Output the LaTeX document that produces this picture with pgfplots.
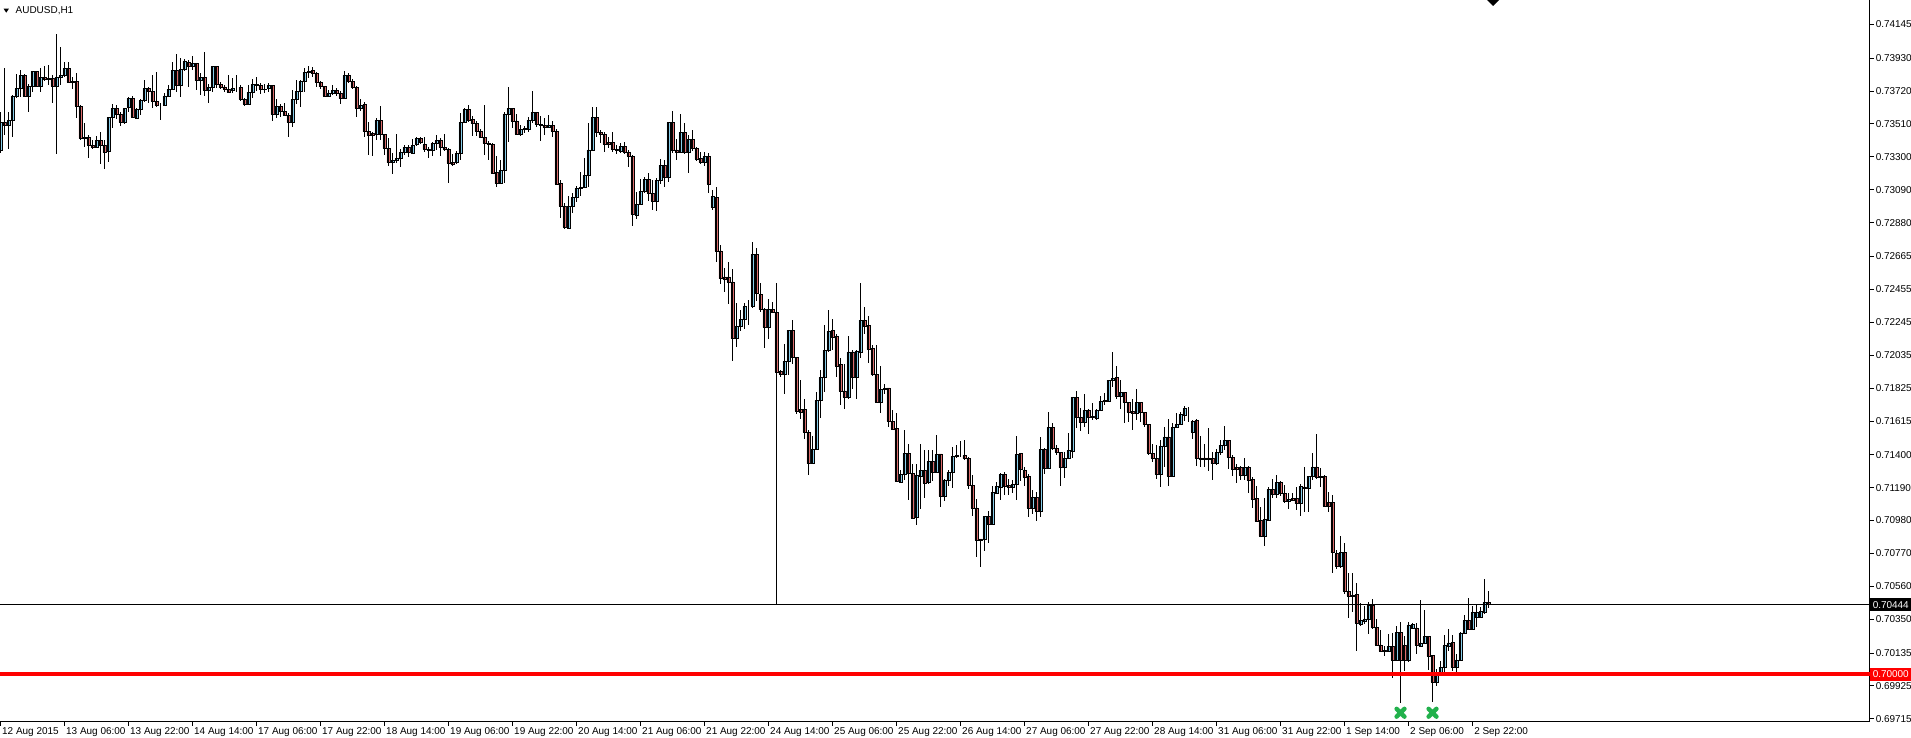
\documentclass[border=0pt]{standalone}
\usepackage{fontspec}
\setmainfont{Liberation Sans}
\usepackage{pgfplots}
\usepackage{pgfplotstable}
\pgfplotsset{compat=1.18}
\definecolor{bull}{RGB}{135,206,235}
\definecolor{bear}{RGB}{222,108,108}
\definecolor{xgreen}{RGB}{34,177,76}
\pgfplotstableread{
O H L C
0.73343 0.73584 0.73322 0.73520
0.73520 0.73865 0.73439 0.73503
0.73503 0.73588 0.73350 0.73531
0.73531 0.73695 0.73424 0.73690
0.73690 0.73827 0.73673 0.73737
0.73737 0.73852 0.73684 0.73818
0.73818 0.73827 0.73680 0.73690
0.73690 0.73763 0.73588 0.73750
0.73750 0.73850 0.73716 0.73846
0.73846 0.73850 0.73744 0.73750
0.73750 0.73865 0.73716 0.73808
0.73808 0.73878 0.73786 0.73795
0.73801 0.73884 0.73759 0.73795
0.73801 0.73823 0.73646 0.73750
0.73750 0.74082 0.73316 0.73808
0.73808 0.73999 0.73759 0.73818
0.73818 0.73903 0.73812 0.73865
0.73865 0.73903 0.73769 0.73776
0.73782 0.73812 0.73731 0.73776
0.73780 0.73833 0.73550 0.73624
0.73624 0.73631 0.73407 0.73418
0.73424 0.73514 0.73360 0.73418
0.73424 0.73439 0.73290 0.73375
0.73375 0.73407 0.73350 0.73360
0.73360 0.73433 0.73354 0.73407
0.73407 0.73456 0.73252 0.73375
0.73375 0.73407 0.73222 0.73328
0.73333 0.73552 0.73269 0.73552
0.73552 0.73639 0.73486 0.73609
0.73609 0.73631 0.73541 0.73571
0.73571 0.73584 0.73499 0.73520
0.73520 0.73609 0.73509 0.73609
0.73616 0.73684 0.73584 0.73673
0.73673 0.73688 0.73550 0.73556
0.73546 0.73614 0.73541 0.73603
0.73603 0.73669 0.73567 0.73659
0.73659 0.73791 0.73652 0.73737
0.73737 0.73748 0.73641 0.73720
0.73720 0.73823 0.73614 0.73656
0.73656 0.73844 0.73620 0.73627
0.73631 0.73641 0.73535 0.73631
0.73631 0.73705 0.73627 0.73690
0.73690 0.73759 0.73684 0.73731
0.73731 0.73903 0.73727 0.73854
0.73854 0.73955 0.73716 0.73759
0.73759 0.73929 0.73684 0.73859
0.73859 0.73923 0.73848 0.73912
0.73903 0.73918 0.73748 0.73876
0.73876 0.73944 0.73854 0.73897
0.73897 0.73901 0.73727 0.73786
0.73786 0.73837 0.73695 0.73808
0.73808 0.73967 0.73690 0.73725
0.73725 0.73767 0.73646 0.73744
0.73744 0.73878 0.73716 0.73876
0.73876 0.73876 0.73737 0.73763
0.73763 0.73780 0.73731 0.73742
0.73746 0.73759 0.73716 0.73731
0.73733 0.73823 0.73705 0.73712
0.73722 0.73801 0.73710 0.73737
0.73742 0.73823 0.73716 0.73742
0.73744 0.73759 0.73658 0.73669
0.73667 0.73678 0.73627 0.73639
0.73639 0.73759 0.73635 0.73712
0.73711 0.73795 0.73677 0.73765
0.73758 0.73812 0.73722 0.73763
0.73756 0.73769 0.73699 0.73731
0.73733 0.73763 0.73709 0.73731
0.73737 0.73769 0.73711 0.73756
0.73756 0.73756 0.73530 0.73571
0.73571 0.73667 0.73550 0.73620
0.73620 0.73635 0.73556 0.73588
0.73590 0.73641 0.73560 0.73565
0.73565 0.73577 0.73424 0.73520
0.73520 0.73726 0.73488 0.73667
0.73667 0.73790 0.73635 0.73720
0.73720 0.73790 0.73620 0.73784
0.73784 0.73865 0.73711 0.73839
0.73839 0.73882 0.73801 0.73846
0.73854 0.73876 0.73812 0.73833
0.73833 0.73839 0.73743 0.73775
0.73775 0.73784 0.73731 0.73748
0.73748 0.73748 0.73684 0.73690
0.73690 0.73726 0.73690 0.73709
0.73705 0.73758 0.73694 0.73724
0.73724 0.73737 0.73690 0.73705
0.73705 0.73722 0.73635 0.73673
0.73673 0.73848 0.73667 0.73822
0.73822 0.73833 0.73769 0.73780
0.73784 0.73795 0.73733 0.73743
0.73743 0.73752 0.73556 0.73609
0.73609 0.73667 0.73594 0.73631
0.73637 0.73652 0.73428 0.73462
0.73462 0.73520 0.73315 0.73435
0.73449 0.73460 0.73307 0.73435
0.73445 0.73545 0.73407 0.73535
0.73535 0.73624 0.73407 0.73443
0.73443 0.73449 0.73309 0.73354
0.73354 0.73418 0.73243 0.73264
0.73264 0.73326 0.73188 0.73279
0.73277 0.73443 0.73258 0.73292
0.73292 0.73349 0.73237 0.73328
0.73328 0.73379 0.73315 0.73362
0.73362 0.73379 0.73300 0.73328
0.73322 0.73413 0.73317 0.73375
0.73379 0.73424 0.73375 0.73420
0.73420 0.73428 0.73381 0.73392
0.73379 0.73424 0.73332 0.73349
0.73349 0.73364 0.73294 0.73343
0.73343 0.73392 0.73307 0.73386
0.73386 0.73439 0.73347 0.73403
0.73403 0.73418 0.73307 0.73360
0.73360 0.73445 0.73343 0.73347
0.73347 0.73354 0.73134 0.73258
0.73264 0.73317 0.73243 0.73251
0.73264 0.73339 0.73258 0.73322
0.73322 0.73577 0.73279 0.73520
0.73520 0.73609 0.73520 0.73603
0.73603 0.73631 0.73520 0.73535
0.73539 0.73562 0.73432 0.73513
0.73513 0.73530 0.73435 0.73464
0.73464 0.73477 0.73418 0.73424
0.73424 0.73631 0.73315 0.73386
0.73386 0.73403 0.73279 0.73379
0.73379 0.73386 0.73188 0.73198
0.73202 0.73305 0.73109 0.73130
0.73131 0.73280 0.73131 0.73216
0.73216 0.73589 0.73131 0.73574
0.73574 0.73744 0.73397 0.73610
0.73610 0.73610 0.73486 0.73529
0.73529 0.73574 0.73444 0.73444
0.73444 0.73503 0.73435 0.73476
0.73476 0.73499 0.73450 0.73482
0.73476 0.73552 0.73461 0.73535
0.73535 0.73721 0.73518 0.73584
0.73584 0.73589 0.73493 0.73508
0.73508 0.73561 0.73403 0.73503
0.73503 0.73546 0.73440 0.73489
0.73489 0.73567 0.73482 0.73503
0.73503 0.73529 0.73429 0.73465
0.73465 0.73476 0.73120 0.73126
0.73131 0.73152 0.72913 0.72986
0.72986 0.73007 0.72837 0.72850
0.72847 0.73050 0.72843 0.72986
0.72986 0.73067 0.72939 0.73041
0.73041 0.73114 0.73013 0.73099
0.73099 0.73201 0.73050 0.73105
0.73105 0.73295 0.73099 0.73184
0.73184 0.73518 0.73105 0.73344
0.73344 0.73616 0.73339 0.73552
0.73552 0.73616 0.73429 0.73457
0.73457 0.73472 0.73391 0.73444
0.73444 0.73461 0.73333 0.73380
0.73393 0.73425 0.73354 0.73380
0.73393 0.73461 0.73333 0.73348
0.73350 0.73376 0.73318 0.73344
0.73339 0.73391 0.73322 0.73369
0.73369 0.73393 0.73318 0.73329
0.73329 0.73344 0.73233 0.73305
0.73305 0.73312 0.72860 0.72933
0.72928 0.73077 0.72901 0.72997
0.72997 0.73156 0.72997 0.73082
0.73082 0.73173 0.73067 0.73158
0.73158 0.73199 0.73020 0.73067
0.73067 0.73152 0.72960 0.73020
0.73020 0.73163 0.72956 0.73152
0.73152 0.73286 0.73126 0.73248
0.73248 0.73280 0.73109 0.73169
0.73169 0.73525 0.73137 0.73518
0.73518 0.73593 0.73322 0.73344
0.73344 0.73414 0.73280 0.73329
0.73329 0.73574 0.73329 0.73457
0.73457 0.73514 0.73318 0.73329
0.73329 0.73440 0.73199 0.73412
0.73412 0.73472 0.73337 0.73354
0.73354 0.73365 0.73276 0.73286
0.73290 0.73329 0.73254 0.73265
0.73265 0.73329 0.73244 0.73305
0.73305 0.73327 0.73067 0.73126
0.72977 0.73088 0.72960 0.73050
0.73041 0.73109 0.72630 0.72700
0.72700 0.72737 0.72492 0.72524
0.72534 0.72592 0.72439 0.72517
0.72534 0.72630 0.72364 0.72502
0.72502 0.72583 0.71998 0.72140
0.72144 0.72370 0.72087 0.72219
0.72219 0.72321 0.72189 0.72262
0.72262 0.72370 0.72204 0.72347
0.72347 0.72390 0.72225 0.72347
0.72348 0.72760 0.72333 0.72680
0.72680 0.72720 0.72382 0.72429
0.72423 0.72493 0.72312 0.72327
0.72327 0.72333 0.72082 0.72212
0.72212 0.72391 0.72141 0.72327
0.72327 0.72376 0.72301 0.72312
0.72307 0.72493 0.70444 0.71928
0.71933 0.71939 0.71896 0.71913
0.71911 0.72105 0.71786 0.71997
0.71997 0.72195 0.71907 0.72195
0.72195 0.72259 0.71977 0.72020
0.72020 0.72020 0.71658 0.71679
0.71688 0.71875 0.71626 0.71673
0.71688 0.71758 0.71502 0.71545
0.71541 0.71556 0.71268 0.71343
0.71343 0.71517 0.71343 0.71438
0.71438 0.71801 0.71438 0.71747
0.71747 0.71939 0.71634 0.71892
0.71892 0.72227 0.71801 0.72067
0.72067 0.72322 0.72056 0.72188
0.72195 0.72263 0.72067 0.72152
0.72156 0.72173 0.71896 0.71967
0.71975 0.72014 0.71715 0.71807
0.71807 0.71977 0.71694 0.71769
0.71769 0.72156 0.71758 0.72056
0.72056 0.72067 0.71822 0.71892
0.71892 0.72067 0.71754 0.72063
0.72056 0.72493 0.72020 0.72259
0.72259 0.72344 0.72169 0.72222
0.72227 0.72284 0.71982 0.72071
0.72077 0.72099 0.71901 0.71911
0.71911 0.72099 0.71730 0.71737
0.71737 0.71965 0.71666 0.71818
0.71815 0.71854 0.71786 0.71822
0.71826 0.71828 0.71577 0.71615
0.71615 0.71683 0.71556 0.71562
0.71566 0.71669 0.71232 0.71232
0.71225 0.71300 0.71219 0.71274
0.71274 0.71560 0.71236 0.71411
0.71411 0.71470 0.71113 0.71279
0.71279 0.71343 0.70987 0.70995
0.71002 0.71338 0.70949 0.71268
0.71262 0.71470 0.71055 0.71300
0.71300 0.71428 0.71123 0.71219
0.71225 0.71428 0.71215 0.71357
0.71357 0.71428 0.71232 0.71289
0.71289 0.71524 0.71289 0.71402
0.71406 0.71406 0.71066 0.71136
0.71136 0.71247 0.71108 0.71240
0.71240 0.71304 0.71198 0.71287
0.71287 0.71449 0.71187 0.71389
0.71389 0.71464 0.71381 0.71396
0.71396 0.71485 0.71385 0.71396
0.71396 0.71496 0.71368 0.71375
0.71375 0.71385 0.71183 0.71204
0.71204 0.71268 0.71012 0.71061
0.71061 0.71119 0.70746 0.70857
0.70863 0.70863 0.70682 0.70857
0.70859 0.71012 0.70789 0.71006
0.71006 0.71040 0.70836 0.70959
0.70959 0.71200 0.70949 0.71161
0.71157 0.71225 0.71151 0.71198
0.71191 0.71284 0.71110 0.71274
0.71274 0.71291 0.71142 0.71201
0.71205 0.71242 0.71142 0.71191
0.71191 0.71237 0.71156 0.71212
0.71212 0.71519 0.71110 0.71401
0.71408 0.71412 0.71233 0.71306
0.71301 0.71323 0.71201 0.71259
0.71263 0.71280 0.71000 0.71060
0.71060 0.71178 0.71020 0.71127
0.71127 0.71163 0.70980 0.71040
0.71040 0.71514 0.71000 0.71433
0.71433 0.71446 0.71280 0.71312
0.71312 0.71674 0.71312 0.71574
0.71574 0.71600 0.71429 0.71440
0.71440 0.71461 0.71397 0.71414
0.71414 0.71418 0.71201 0.71318
0.71318 0.71418 0.71254 0.71376
0.71376 0.71536 0.71372 0.71429
0.71425 0.71770 0.71382 0.71766
0.71766 0.71806 0.71568 0.71638
0.71638 0.71695 0.71553 0.71606
0.71606 0.71787 0.71574 0.71685
0.71685 0.71691 0.71531 0.71638
0.71646 0.71727 0.71621 0.71638
0.71631 0.71691 0.71621 0.71685
0.71685 0.71774 0.71680 0.71738
0.71738 0.71795 0.71717 0.71749
0.71744 0.71876 0.71744 0.71876
0.71872 0.72053 0.71834 0.71887
0.71893 0.71968 0.71755 0.71776
0.71776 0.71876 0.71691 0.71798
0.71798 0.71802 0.71600 0.71734
0.71734 0.71738 0.71610 0.71674
0.71678 0.71755 0.71557 0.71663
0.71663 0.71817 0.71621 0.71734
0.71734 0.71738 0.71610 0.71670
0.71670 0.71674 0.71574 0.71593
0.71593 0.71593 0.71397 0.71408
0.71408 0.71467 0.71355 0.71376
0.71376 0.71461 0.71248 0.71274
0.71274 0.71497 0.71195 0.71457
0.71457 0.71578 0.71323 0.71514
0.71514 0.71631 0.71201 0.71265
0.71265 0.71600 0.71259 0.71574
0.71574 0.71668 0.71568 0.71593
0.71593 0.71674 0.71589 0.71659
0.71653 0.71710 0.71614 0.71695
0.71695 0.71706 0.71610 0.71695
0.71546 0.71621 0.71499 0.71614
0.71621 0.71625 0.71329 0.71376
0.71380 0.71519 0.71323 0.71374
0.71380 0.71467 0.71323 0.71374
0.71380 0.71572 0.71295 0.71374
0.71376 0.71418 0.71237 0.71344
0.71344 0.71435 0.71333 0.71414
0.71414 0.71493 0.71397 0.71461
0.71461 0.71582 0.71429 0.71493
0.71493 0.71497 0.71312 0.71382
0.71382 0.71397 0.71263 0.71306
0.71318 0.71344 0.71222 0.71306
0.71318 0.71327 0.71237 0.71269
0.71269 0.71376 0.71237 0.71318
0.71318 0.71327 0.71156 0.71237
0.71242 0.71259 0.71061 0.71114
0.71120 0.71199 0.70971 0.70975
0.70982 0.71067 0.70875 0.70882
0.70882 0.71124 0.70816 0.70986
0.70982 0.71195 0.70975 0.71180
0.71180 0.71242 0.71127 0.71146
0.71146 0.71269 0.71125 0.71222
0.71222 0.71233 0.71137 0.71152
0.71152 0.71205 0.71093 0.71105
0.71105 0.71159 0.71052 0.71116
0.71120 0.71159 0.71105 0.71110
0.71120 0.71195 0.71046 0.71088
0.71088 0.71212 0.71009 0.71199
0.71195 0.71323 0.71035 0.71188
0.71188 0.71265 0.71035 0.71263
0.71263 0.71412 0.71237 0.71323
0.71323 0.71531 0.71244 0.71254
0.71263 0.71318 0.71195 0.71254
0.71263 0.71269 0.71067 0.71073
0.71095 0.71163 0.71035 0.71073
0.71095 0.71142 0.70645 0.70775
0.70769 0.70790 0.70669 0.70690
0.70690 0.70880 0.70679 0.70775
0.70775 0.70837 0.70509 0.70530
0.70530 0.70645 0.70360 0.70498
0.70503 0.70647 0.70396 0.70496
0.70507 0.70584 0.70147 0.70328
0.70317 0.70454 0.70307 0.70343
0.70339 0.70432 0.70317 0.70353
0.70353 0.70460 0.70258 0.70439
0.70439 0.70481 0.70289 0.70300
0.70300 0.70349 0.70183 0.70187
0.70187 0.70283 0.70140 0.70147
0.70151 0.70177 0.70115 0.70145
0.70145 0.70258 0.70140 0.70177
0.70177 0.70262 0.69974 0.70091
0.70091 0.70307 0.70087 0.70268
0.70268 0.70336 0.69817 0.70087
0.70183 0.70241 0.70019 0.70087
0.70087 0.70332 0.70083 0.70315
0.70296 0.70326 0.70289 0.70317
0.70296 0.70328 0.70130 0.70183
0.70179 0.70471 0.70179 0.70200
0.70200 0.70407 0.70194 0.70241
0.70241 0.70241 0.70028 0.70113
0.70119 0.70119 0.69825 0.69949
0.69949 0.70034 0.69923 0.70002
0.70002 0.70083 0.69987 0.70045
0.70045 0.70247 0.69991 0.70183
0.70179 0.70289 0.70147 0.70200
0.70204 0.70253 0.70019 0.70045
0.70045 0.70130 0.70017 0.70091
0.70091 0.70272 0.70087 0.70264
0.70264 0.70375 0.70258 0.70343
0.70343 0.70485 0.70283 0.70289
0.70289 0.70434 0.70283 0.70392
0.70364 0.70439 0.70300 0.70392
0.70364 0.70428 0.70358 0.70400
0.70396 0.70609 0.70385 0.70460
0.70460 0.70528 0.70422 0.70443
}\candles
\tikzset{lbl/.style={font=\fontsize{10}{11}\selectfont}}
\pgfplotsset{
  chartbox/.style={at={(0bp,16bp)}, anchor=south west, scale only axis,
    width=1869.5bp, height=722bp, xmin=-0.125, xmax=467.25,
    ymin=0.69695, ymax=0.74301, enlargelimits=false}
}
\begin{document}
\begin{tikzpicture}[x=1bp,y=1bp]
\useasboundingbox (0,0) rectangle (1911,738);
\begin{axis}[chartbox,
  axis x line=bottom, axis y line=right,
  axis line style={-, line width=1bp, black},
  ybar stacked, bar width=0.82,
  xtick={0,16,...,368},
  xticklabels={12 Aug 2015,13 Aug 06:00,13 Aug 22:00,14 Aug 14:00,17 Aug 06:00,17 Aug 22:00,18 Aug 14:00,19 Aug 06:00,19 Aug 22:00,20 Aug 14:00,21 Aug 06:00,21 Aug 22:00,24 Aug 14:00,25 Aug 06:00,25 Aug 22:00,26 Aug 14:00,27 Aug 06:00,27 Aug 22:00,28 Aug 14:00,31 Aug 06:00,31 Aug 22:00,1 Sep 14:00,2 Sep 06:00,2 Sep 22:00},
  ytick={0.69715,0.69925,0.70135,0.70350,0.70560,0.70770,0.70980,0.71190,0.71400,0.71615,0.71825,0.72035,0.72245,0.72455,0.72665,0.72880,0.73090,0.73300,0.73510,0.73720,0.73930,0.74145},
  yticklabels={0.69715,0.69925,0.70135,0.70350,0.70560,0.70770,0.70980,0.71190,0.71400,0.71615,0.71825,0.72035,0.72245,0.72455,0.72665,0.72880,0.73090,0.73300,0.73510,0.73720,0.73930,0.74145},
  scaled y ticks=false,
  tick align=outside, major tick length=4bp,
  tick style={black, line width=1bp},
  xticklabel style={lbl, anchor=north west, inner sep=0pt, xshift=1.5bp, yshift=-1bp},
  yticklabel style={lbl, anchor=west, inner sep=0pt, xshift=2bp},
]
\addplot[draw=none, fill=none, forget plot,
  error bars/.cd, y dir=both, y explicit, error mark=none,
  error bar style={draw=black, line width=1bp, solid}]
  table[x expr=\coordindex, y expr={min(\thisrow{O},\thisrow{C})},
    y error plus expr={\thisrow{H}-min(\thisrow{O},\thisrow{C})},
    y error minus expr={min(\thisrow{O},\thisrow{C})-\thisrow{L}}] {\candles};
\addplot[draw=black, line width=0.5bp, fill=bull, forget plot]
  table[x expr=\coordindex, y expr={max(\thisrow{C}-\thisrow{O},0)}] {\candles};
\addplot[draw=black, line width=0.5bp, fill=bear, forget plot]
  table[x expr=\coordindex, y expr={max(\thisrow{O}-\thisrow{C},0)}] {\candles};
\end{axis}
\begin{axis}[chartbox, hide axis, clip=false]
\addplot[black, line width=1bp, mark=none] coordinates {(-0.125,0.70444) (467.25,0.70444)};
\addplot[red, line width=4.2bp, mark=none] coordinates {(-0.125,0.70000) (467.25,0.70000)};
\addplot[only marks, mark=x, mark size=5.5bp, mark options={draw=xgreen, line width=4.5bp, line cap=round}] coordinates {(350,0.69754) (358,0.69754)};
\node[anchor=west, fill=black, text=white, lbl, inner xsep=3bp, inner ysep=0pt, minimum height=13bp] at (axis cs:467.25,0.70444) {0.70444};
\node[anchor=west, fill=red, text=white, lbl, inner xsep=3bp, inner ysep=0pt, minimum height=13bp] at (axis cs:467.25,0.70000) {0.70000};
\end{axis}
\fill[black] (3.6,729.3) -- (8.9,729.3) -- (6.25,725.3) -- cycle;
\node[anchor=west, lbl, inner sep=0pt] at (15.5,727.5) {AUDUSD,H1};
\fill[black] (1487,738) -- (1499,738) -- (1493,732) -- cycle;
\end{tikzpicture}
\end{document}
